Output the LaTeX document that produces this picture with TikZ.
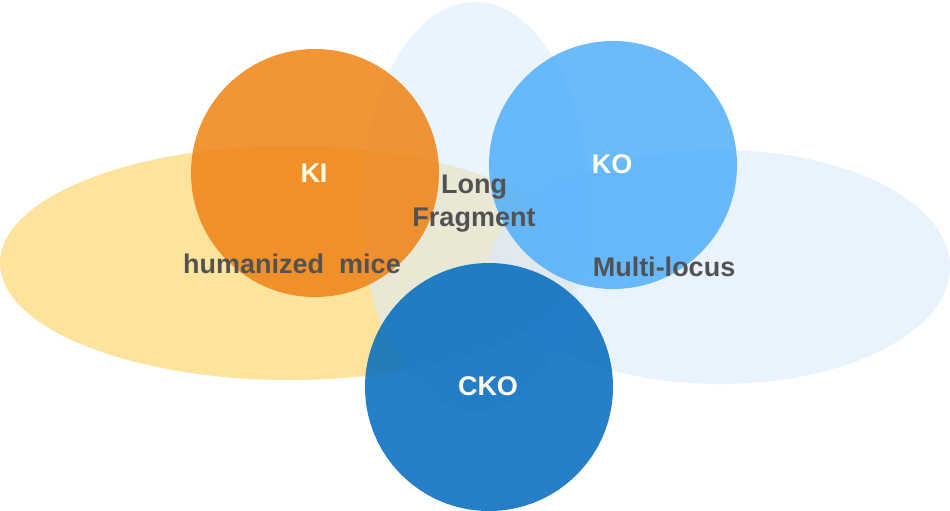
\documentclass[tikz,border=0pt]{standalone}
\usepackage{fontspec}
\setmainfont{Liberation Sans}
\definecolor{yel}{RGB}{253,226,150}
\definecolor{lblue}{RGB}{220,236,252}
\definecolor{orng}{RGB}{240,130,20}
\definecolor{kob}{RGB}{70,170,250}
\definecolor{ckob}{RGB}{0,105,190}
\begin{document}
\begin{tikzpicture}[x=1pt,y=-1pt,
 lbl/.style={font=\bfseries\fontsize{27}{33}\selectfont,text=black!68,align=center},
 wlbl/.style={font=\bfseries\fontsize{27}{33}\selectfont,text=white!92!yellow}]
\useasboundingbox (0,0) rectangle (950,511);
\fill[fill=yel,opacity=0.95] (290,263) ellipse [x radius=290,y radius=117];
\fill[fill=lblue,opacity=0.65] (720,267) ellipse [x radius=230,y radius=117];
\fill[fill=lblue,opacity=0.6] (475,207) ellipse [x radius=114,y radius=205];
\fill[fill=orng,opacity=0.85] (315,173) circle [radius=124];
\fill[fill=kob,opacity=0.8] (613,165) circle [radius=124];
\fill[fill=ckob,opacity=0.85] (489,387) circle [radius=124];
\node[wlbl] (ki) at (314,173) {KI};
\node[wlbl] (ko) at (612,164) {KO};
\node[wlbl] (cko) at (488,386) {CKO};
\node[lbl] (lf) at (474,204) {Long\\Fragment};
\node[lbl] (hm) at (292,264) {humanized\ \ mice};
\node[lbl] (ml) at (664,267) {Multi-locus};
\end{tikzpicture}
\end{document}
